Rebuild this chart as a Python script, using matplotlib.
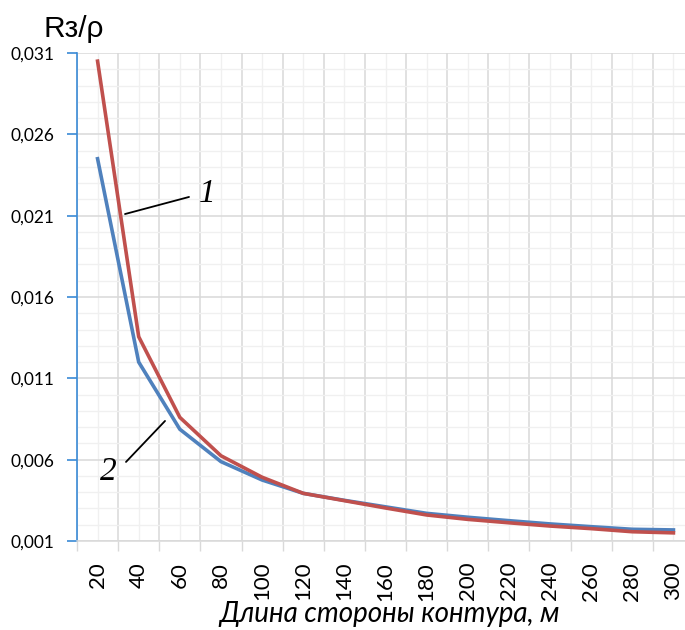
import numpy as np
import matplotlib
matplotlib.use("Agg")
import matplotlib.pyplot as plt
from matplotlib.ticker import FixedLocator, NullFormatter

# Длина стороны контура, м
lengths = [20, 40, 60, 80, 100, 120, 140, 160, 180, 200, 220, 240, 260, 280, 300]
# кривая 1
r1 = [0.0305, 0.01356, 0.0086, 0.00624, 0.00492, 0.00393, 0.00348, 0.00303,
      0.0026, 0.00233, 0.00212, 0.00192, 0.00176, 0.00157, 0.0015]
# кривая 2
r2 = [0.0245, 0.0120, 0.00787, 0.00588, 0.00475, 0.00393, 0.0035, 0.0031,
      0.0027, 0.00246, 0.00225, 0.00205, 0.00188, 0.00172, 0.00168]
y_ticks = [0.001, 0.006, 0.011, 0.016, 0.021, 0.026, 0.031]

plt.rcParams['font.family'] = ['Lato', 'DejaVu Sans']

fig = plt.figure(figsize=(6.85, 6.3), dpi=100)
ax = fig.add_axes([77 / 685, 89 / 630, 617 / 685, 488 / 630])

x = np.arange(len(lengths))
ax.plot(x, r2, color='#4F81BD', lw=2.6, solid_joinstyle='miter', zorder=3)
ax.plot(x, r1, color='#C0504D', lw=2.6, solid_joinstyle='miter', zorder=4)

ax.set_xlim(-0.5, len(lengths) - 0.5)
ax.set_ylim(0.001, 0.031)

# ось X: деления между категориями, подписи по центрам
ax.xaxis.set_major_locator(FixedLocator(np.arange(-0.5, len(lengths), 1.0)))
ax.xaxis.set_major_formatter(NullFormatter())
ax.set_xticks(x, [str(v) for v in lengths], minor=True)
ax.tick_params(axis='x', which='major', length=7, width=1, color='#D9D9D9', direction='out')
ax.tick_params(axis='x', which='minor', length=0, pad=15, labelsize=16, labelrotation=90)
for lab in ax.get_xticklabels(minor=True):
    lab.set_verticalalignment('top')

# ось Y
ax.set_yticks(y_ticks, [f"{v:.3f}".replace('.', ',') for v in y_ticks])
ax.yaxis.set_minor_locator(FixedLocator(np.arange(0.001, 0.0311, 0.001)))
ax.tick_params(axis='y', which='major', length=7, width=1.2, color='#3A8AD6',
               direction='out', pad=9.5, labelsize=12.5)
ax.tick_params(axis='y', which='minor', length=0)

ax.grid(which='major', color='#D9D9D9', lw=1.1, zorder=0)
ax.grid(which='minor', color='#F0F0F0', lw=1.0, zorder=0)
ax.set_axisbelow(True)

for s in ['top', 'right']:
    ax.spines[s].set_visible(False)
ax.spines['left'].set_color('#3A8AD6')
ax.spines['left'].set_linewidth(1.2)
ax.spines['bottom'].set_color('#D9D9D9')
ax.spines['bottom'].set_linewidth(1.1)

fig.text(43 / 685, 1 - 37 / 630, 'Rз/ρ', fontsize=21.5, family='Liberation Sans',
         ha='left', va='baseline')
fig.text(390 / 685, 1 - 614 / 630, 'Длина стороны контура, м', fontsize=20,
         style='italic', ha='center', va='center')

# выноски с номерами кривых
serif = dict(fontsize=24, family='Liberation Serif', style='italic', ha='center', va='center')
ax.annotate('', xy=(0.667, 0.0211), xytext=(2.223, 0.02215),
            arrowprops=dict(arrowstyle='-', color='black', lw=1.3, shrinkA=0, shrinkB=0))
ax.text(2.673, 0.02236, '1', **serif)
ax.annotate('', xy=(1.64, 0.00838), xytext=(0.691, 0.00586),
            arrowprops=dict(arrowstyle='-', color='black', lw=1.3, shrinkA=0, shrinkB=0))
ax.text(0.266, 0.00527, '2', **serif)

fig.savefig('out.png', dpi=100)
